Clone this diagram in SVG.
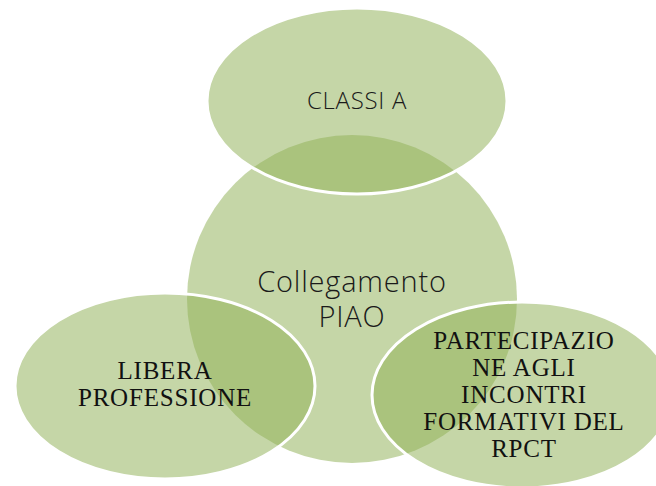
<svg xmlns="http://www.w3.org/2000/svg" width="656" height="486" viewBox="0 0 656 486">
<style>
.shape{fill:#92B258;fill-opacity:0.53;stroke:#ffffff;stroke-width:3}
.sans{font-family:"Open Sans","Lato","DejaVu Sans",sans-serif;font-weight:300;fill:#1a1a1a;text-anchor:middle}
.serif{font-family:"Liberation Serif","Times New Roman",serif;fill:#111111;text-anchor:middle;font-size:25px;letter-spacing:0.8px}
</style>
<rect width="656" height="486" fill="#ffffff"/>
<g id="center">
<ellipse cx="352" cy="299" rx="165" ry="164" fill="#92B258" fill-opacity="0.53"/>
</g>
<g id="top">
<ellipse class="shape" cx="357" cy="101" rx="150" ry="93"/>
</g>
<g id="left">
<ellipse class="shape" cx="165" cy="386" rx="150" ry="93"/>
</g>
<g id="right">
<ellipse class="shape" cx="522" cy="395" rx="150" ry="93"/>
</g>
<g id="connectors"></g>
<g id="labels">
<text class="sans" x="357" y="109" font-size="24" letter-spacing="0.7">CLASSI A</text>
<text class="sans" x="352" y="292" font-size="29" letter-spacing="0.8">Collegamento</text>
<text class="sans" x="352" y="327" font-size="29" letter-spacing="0.8">PIAO</text>
<text class="serif" x="165" y="379">LIBERA</text>
<text class="serif" x="165" y="406">PROFESSIONE</text>
<text class="serif" x="524" y="349">PARTECIPAZIO</text>
<text class="serif" x="524" y="376">NE AGLI</text>
<text class="serif" x="524" y="403">INCONTRI</text>
<text class="serif" x="524" y="430">FORMATIVI DEL</text>
<text class="serif" x="524" y="457">RPCT</text>
</g>
</svg>
